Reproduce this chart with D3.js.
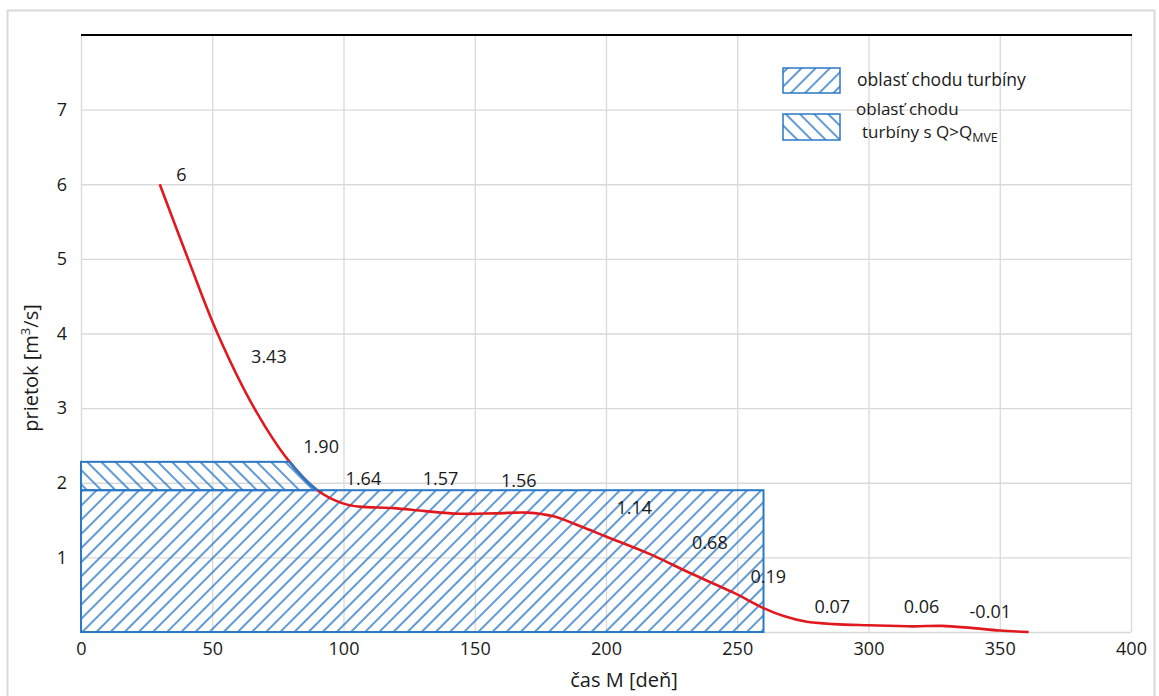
<!DOCTYPE html>
<html>
<head>
<meta charset="utf-8">
<script src="https://cdn.jsdelivr.net/npm/d3@7/dist/d3.min.js"></script>
<style>
  body { margin: 0; background: #fff; }
  svg text { font-family: "Open Sans", "Noto Sans", sans-serif; fill: #1a1a1a; }
</style>
</head>
<body>
<div id="chart"></div>
<script>
// duration curve (cas M [den] -> prietok)
const days = [30, 41, 52, 66, 79, 90, 100, 106, 119, 131, 144, 158, 170, 180, 190, 200, 217, 232, 249, 260, 268, 276, 287, 300, 317, 328, 339, 350, 361];
const flows = [6.0, 4.98, 4.0, 3.0, 2.3, 1.9, 1.72, 1.68, 1.66, 1.62, 1.585, 1.59, 1.60, 1.55, 1.42, 1.28, 1.04, 0.79, 0.52, 0.32, 0.21, 0.14, 0.105, 0.09, 0.076, 0.082, 0.055, 0.02, 0.0];

// data labels as shown in the chart, with their anchor in data units
const labelText = ["6", "3.43", "1.90", "1.64", "1.57", "1.56", "1.14", "0.68", "0.19", "0.07", "0.06", "-0.01"];
const labelDay = [36.3, 64.8, 84.7, 100.8, 130.2, 160, 204, 232.8, 255, 279.4, 313.4, 338.5];
const labelFlow = [6.04, 3.61, 2.40, 1.97, 1.97, 1.94, 1.58, 1.11, 0.66, 0.25, 0.25, 0.19];

// turbine operating areas
const turbineDays = [0, 260];
const qMve = 1.9;
const qTop = 2.28;

const xTicks = [0, 50, 100, 150, 200, 250, 300, 350, 400];
const yTicks = [1, 2, 3, 4, 5, 6, 7];

const width = 1159, height = 696;
const margin = {left: 81, right: 1131, top: 35, bottom: 632};
const blue = "#2b78c6";
const red = "#e0191f";
const grid = "#d9d9d9";

const x = d3.scaleLinear().domain([0, 400]).range([margin.left, margin.right]);
const y = d3.scaleLinear().domain([0, 8]).range([margin.bottom, margin.top]);

const svg = d3.select("#chart").append("svg")
    .attr("width", width)
    .attr("height", height);

// outer frame
svg.append("rect")
    .attr("x", 7.5).attr("y", 10.5)
    .attr("width", 1147).attr("height", 700)
    .attr("fill", "none")
    .attr("stroke", grid)
    .attr("stroke-width", 2);

const defs = svg.append("defs");

//hatch patterns
const hatch = (id, angle, size, sw) => {
    defs.append("pattern")
        .attr("id", id)
        .attr("patternUnits", "userSpaceOnUse")
        .attr("width", size).attr("height", size)
        .attr("patternTransform", `rotate(${angle})`)
        .append("line")
        .attr("x1", size / 2).attr("y1", 0)
        .attr("x2", size / 2).attr("y2", size)
        .attr("stroke", blue)
        .attr("stroke-width", sw);
}
hatch("hatchUp", 45, 10, 1.5);
hatch("hatchDown", -45, 10, 1.5);

const line = d3.line()
    .x((d, i) => x(days[i]))
    .y(d => y(d))
    .curve(d3.curveCatmullRom.alpha(0.5));

const area = d3.area()
    .x((d, i) => x(days[i]))
    .y0(y(0))
    .y1(d => y(d))
    .curve(d3.curveCatmullRom.alpha(0.5));

// region left of / below the curve
const under = defs.append("clipPath").attr("id", "under");
under.append("path").attr("d", area(flows));
under.append("rect")
    .attr("x", x(0) - 5).attr("y", y(8))
    .attr("width", x(days[0]) - x(0) + 5)
    .attr("height", y(0) - y(8));

// band between Q_MVE and top
defs.append("clipPath").attr("id", "band")
    .append("rect")
    .attr("x", x(turbineDays[0]))
    .attr("y", y(qTop))
    .attr("width", x(turbineDays[1]) - x(turbineDays[0]))
    .attr("height", y(qMve) - y(qTop));

//grid
svg.append("g")
    .attr("transform", `translate(0, ${margin.bottom})`)
    .call(d3.axisBottom(x).tickValues(xTicks).tickSize(-(margin.bottom - margin.top)).tickFormat(""))
    .call(g => g.select(".domain").remove())
    .call(g => g.selectAll("line").attr("stroke", grid).attr("stroke-width", 1.3));

svg.append("g")
    .attr("transform", `translate(${margin.left}, 0)`)
    .call(d3.axisLeft(y).tickValues([0].concat(yTicks)).tickSize(-(margin.right - margin.left)).tickFormat(""))
    .call(g => g.select(".domain").remove())
    .call(g => g.selectAll("line").attr("stroke", grid).attr("stroke-width", 1.3));

// top line
svg.append("line")
    .attr("x1", x(0)).attr("x2", x(400) + 1)
    .attr("y1", y(8)).attr("y2", y(8))
    .attr("stroke", "#000")
    .attr("stroke-width", 2);

// turbine area
svg.append("rect")
    .attr("x", x(turbineDays[0]))
    .attr("y", y(qMve))
    .attr("width", x(turbineDays[1]) - x(turbineDays[0]))
    .attr("height", y(0) - y(qMve))
    .attr("fill", "url(#hatchUp)")
    .attr("stroke", blue)
    .attr("stroke-width", 2);

// curve
svg.append("path")
    .attr("d", line(flows))
    .attr("fill", "none")
    .attr("stroke", red)
    .attr("stroke-width", 2.6);

// turbine area with Q > Q_MVE
svg.append("g")
    .attr("clip-path", "url(#under)")
    .append("rect")
    .attr("x", x(turbineDays[0]))
    .attr("y", y(qTop))
    .attr("width", x(turbineDays[1]) - x(turbineDays[0]))
    .attr("height", y(qMve) - y(qTop))
    .attr("fill", "url(#hatchDown)")
    .attr("stroke", blue)
    .attr("stroke-width", 2);

svg.append("g")
    .attr("clip-path", "url(#band)")
    .append("path")
    .attr("d", line(flows))
    .attr("fill", "none")
    .attr("stroke", blue)
    .attr("stroke-width", 2.6);

//axises
svg.append("g")
    .attr("transform", `translate(0, ${margin.bottom})`)
    .call(d3.axisBottom(x).tickValues(xTicks).tickSize(0).tickPadding(10))
    .call(g => g.select(".domain").remove())
    .call(g => g.selectAll("text").style("font-size", "18px").attr("fill", "#1a1a1a"));

svg.append("g")
    .attr("transform", `translate(${margin.left}, 0)`)
    .call(d3.axisLeft(y).tickValues(yTicks).tickSize(0).tickPadding(14))
    .call(g => g.select(".domain").remove())
    .call(g => g.selectAll("text").style("font-size", "18px").attr("fill", "#1a1a1a"));

// data labels
svg.append("g").selectAll("text")
    .data(labelText)
    .join("text")
    .attr("x", (d, i) => x(labelDay[i]))
    .attr("y", (d, i) => y(labelFlow[i]))
    .style("font-size", "18px")
    .text(d => d);

// axis titles
svg.append("text")
    .attr("x", 624).attr("y", 687)
    .attr("text-anchor", "middle")
    .style("font-size", "20px")
    .text("čas M [deň]");

const yTitle = svg.append("text")
    .attr("transform", "translate(38, 368) rotate(-90)")
    .attr("text-anchor", "middle")
    .style("font-size", "20px");
yTitle.append("tspan").text("prietok [m");
yTitle.append("tspan").attr("dy", -8).style("font-size", "13px").text("3");
yTitle.append("tspan").attr("dy", 8).text("/s]");

//legend
const legend = svg.append("g");
legend.append("rect")
    .attr("x", 783).attr("y", 68).attr("width", 57).attr("height", 25)
    .attr("fill", "url(#hatchUp)").attr("stroke", blue).attr("stroke-width", 1.5);
legend.append("rect")
    .attr("x", 783).attr("y", 114).attr("width", 57).attr("height", 26)
    .attr("fill", "url(#hatchDown)").attr("stroke", blue).attr("stroke-width", 1.5);
legend.append("text")
    .attr("x", 857).attr("y", 86)
    .style("font-size", "17.5px")
    .text("oblasť chodu turbíny");
legend.append("text")
    .attr("x", 856).attr("y", 115)
    .style("font-size", "17px")
    .text("oblasť chodu");
const leg2 = legend.append("text")
    .attr("x", 862).attr("y", 138)
    .style("font-size", "17px");
leg2.append("tspan").text("turbíny s Q>Q");
leg2.append("tspan").attr("dy", 4).style("font-size", "12.5px").text("MVE");
</script>
</body>
</html>
